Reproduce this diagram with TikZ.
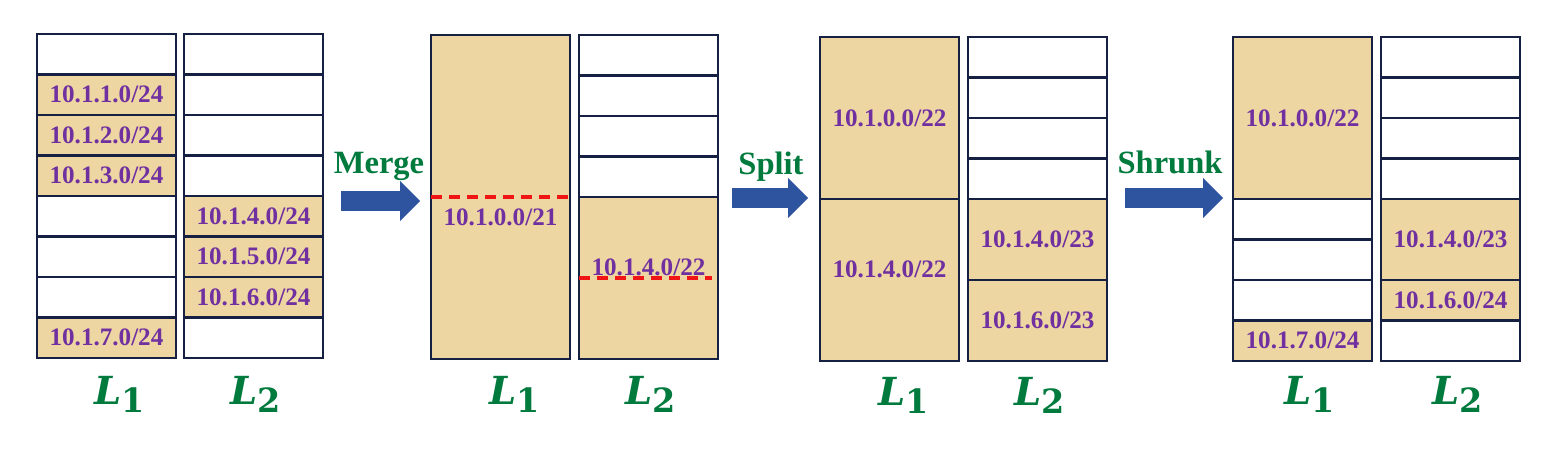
\documentclass[tikz,border=0pt]{standalone}
\usepackage{fontspec}
\setmainfont{Liberation Serif}
\newfontfamily\levelfont{DejaVu Serif}
\usetikzlibrary{positioning, arrows.meta}
\definecolor{papyrus}{RGB}{237,214,162}
\definecolor{cellnavy}{RGB}{22,32,66}
\definecolor{addrpurple}{RGB}{112,48,160}
\definecolor{stepgreen}{RGB}{0,122,61}
\definecolor{arrowblue}{RGB}{46,84,160}
\definecolor{cutred}{RGB}{240,20,20}
\tikzset{
    cell/.style={rectangle, draw=cellnavy, line width=1.5pt, minimum width=2.78cm, minimum height=0.81cm, inner sep=0pt, outer sep=0pt, text=addrpurple, font=\fontsize{14.3}{16}\selectfont\bfseries},
    free/.style={cell, fill=white},
    used/.style={cell, fill=papyrus},
    rows/.style={minimum height=#1*0.81cm},
    addr/.style={text=addrpurple, font=\fontsize{14.3}{16}\selectfont\bfseries, inner sep=0pt},
    steplabel/.style={text=stepgreen, font=\fontsize{18.5}{22}\selectfont\bfseries, anchor=base, inner sep=0pt},
    levellabel/.style={text=stepgreen, anchor=base, inner sep=0pt},
    bigarrow/.style={arrowblue, line width=0.4cm, -{Triangle[length=0.4cm, width=0.8cm, line width=0pt]}},
    cutline/.style={cutred, line width=2pt, dash pattern=on 0.22cm off 0.14cm},
}
\newcommand{\lvl}[1]{{\levelfont\fontsize{22}{26}\selectfont\bfseries\itshape L}\raisebox{-5pt}{\levelfont\fontsize{19}{22}\selectfont\bfseries #1}}

\begin{document}
\begin{tikzpicture}[x=0.02cm, y=-0.02cm]
\useasboundingbox (0,0) rectangle (1547,457);

% initial state
\node[free, anchor=north west] (a1-0) at (37,34) {};
\node[used, below=0pt of a1-0] (a1-1) {10.1.1.0/24};
\node[used, below=0pt of a1-1] (a1-2) {10.1.2.0/24};
\node[used, below=0pt of a1-2] (a1-3) {10.1.3.0/24};
\node[free, below=0pt of a1-3] (a1-4) {};
\node[free, below=0pt of a1-4] (a1-5) {};
\node[free, below=0pt of a1-5] (a1-6) {};
\node[used, below=0pt of a1-6] (a1-7) {10.1.7.0/24};

\node[free, anchor=north west] (a2-0) at (184,34) {};
\node[free, below=0pt of a2-0] (a2-1) {};
\node[free, below=0pt of a2-1] (a2-2) {};
\node[free, below=0pt of a2-2] (a2-3) {};
\node[used, below=0pt of a2-3] (a2-4) {10.1.4.0/24};
\node[used, below=0pt of a2-4] (a2-5) {10.1.5.0/24};
\node[used, below=0pt of a2-5] (a2-6) {10.1.6.0/24};
\node[free, below=0pt of a2-6] (a2-7) {};

\node[levellabel] (a1-name) at (120,404) {\lvl{1}};
\node[levellabel] (a2-name) at (256,404) {\lvl{2}};

% merge
\node[steplabel] (merge) at (379,173) {Merge};
\coordinate (merge-from) at (341,201);
\coordinate (merge-to) at (420,201);
\draw[bigarrow] (merge-from) -- (merge-to);

\node[used, rows=8, anchor=north west] (b1-0) at (431,35) {};
\draw[cutline] (b1-0.west) -- (b1-0.east);
\node[addr] (b1-addr) at ([yshift=-0.4cm]b1-0.center) {10.1.0.0/21};

\node[free, anchor=north west] (b2-0) at (579,35) {};
\node[free, below=0pt of b2-0] (b2-1) {};
\node[free, below=0pt of b2-1] (b2-2) {};
\node[free, below=0pt of b2-2] (b2-3) {};
\node[used, rows=4, below=0pt of b2-3] (b2-4) {};
\draw[cutline] (b2-4.west) -- ([xshift=-0.12cm]b2-4.east);
\node[addr] (b2-addr) at ([yshift=0.22cm]b2-4.center) {10.1.4.0/22};

\node[levellabel] (b1-name) at (515,404) {\lvl{1}};
\node[levellabel] (b2-name) at (651,404) {\lvl{2}};

% split
\node[steplabel] (split) at (771,174) {Split};
\coordinate (split-from) at (732,198);
\coordinate (split-to) at (808,198);
\draw[bigarrow] (split-from) -- (split-to);

\node[used, rows=4, anchor=north west] (c1-0) at (820,37) {10.1.0.0/22};
\node[used, rows=4, below=0pt of c1-0, text depth=0.44cm] (c1-4) {10.1.4.0/22};

\node[free, anchor=north west] (c2-0) at (968,37) {};
\node[free, below=0pt of c2-0] (c2-1) {};
\node[free, below=0pt of c2-1] (c2-2) {};
\node[free, below=0pt of c2-2] (c2-3) {};
\node[used, rows=2, below=0pt of c2-3] (c2-4) {10.1.4.0/23};
\node[used, rows=2, below=0pt of c2-4] (c2-6) {10.1.6.0/23};

\node[levellabel] (c1-name) at (904,405) {\lvl{1}};
\node[levellabel] (c2-name) at (1040,405) {\lvl{2}};

% shrunk
\node[steplabel] (shrunk) at (1170,173) {Shrunk};
\coordinate (shrunk-from) at (1125,198);
\coordinate (shrunk-to) at (1223,198);
\draw[bigarrow] (shrunk-from) -- (shrunk-to);

\node[used, rows=4, anchor=north west] (d1-0) at (1233,37) {10.1.0.0/22};
\node[free, below=0pt of d1-0] (d1-4) {};
\node[free, below=0pt of d1-4] (d1-5) {};
\node[free, below=0pt of d1-5] (d1-6) {};
\node[used, below=0pt of d1-6] (d1-7) {10.1.7.0/24};

\node[free, anchor=north west] (d2-0) at (1381,37) {};
\node[free, below=0pt of d2-0] (d2-1) {};
\node[free, below=0pt of d2-1] (d2-2) {};
\node[free, below=0pt of d2-2] (d2-3) {};
\node[used, rows=2, below=0pt of d2-3] (d2-4) {10.1.4.0/23};
\node[used, below=0pt of d2-4] (d2-6) {10.1.6.0/24};
\node[free, below=0pt of d2-6] (d2-7) {};

\node[levellabel] (d1-name) at (1310,404) {\lvl{1}};
\node[levellabel] (d2-name) at (1458,404) {\lvl{2}};

\end{tikzpicture}
\end{document}
